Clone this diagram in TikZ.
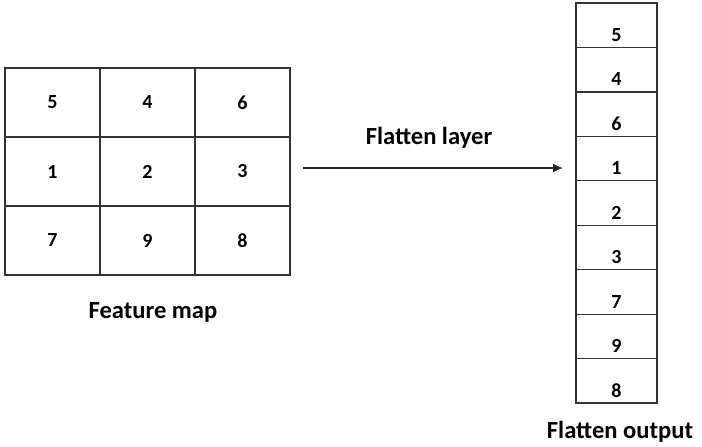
\documentclass[tikz,border=0pt]{standalone}
\usepackage{fontspec}
\setmainfont{Carlito}
\usetikzlibrary{arrows.meta}
\tikzset{
    every node/.style={font=\bfseries},
    cell/.style={rectangle, draw=black!80, line width=0.75pt, minimum width=47.5pt, minimum height=34.5pt, inner sep=0mm, font=\bfseries\fontsize{10}{11}\selectfont},
    flatcell/.style={rectangle, draw=black!80, line width=0.6pt, minimum width=40.5pt, inner sep=0mm, text height=19.2pt, text depth=3pt, font=\bfseries\fontsize{10}{11}\selectfont},
    caption/.style={font=\bfseries\fontsize{12.3}{14}\selectfont}
}

\begin{document}
\begin{tikzpicture}[x=0.5pt, y=-0.5pt]
    \useasboundingbox (0,0) rectangle (702,446);

    % feature map
    \node (f11) [cell] at (52.5, 102.5) {5};
    \node (f12) [cell] at (147.5, 102.5) {4};
    \node (f13) [cell] at (242.5, 102.5) {6};
    \node (f21) [cell] at (52.5, 171.5) {1};
    \node (f22) [cell] at (147.5, 171.5) {2};
    \node (f23) [cell] at (242.5, 171.5) {3};
    \node (f31) [cell] at (52.5, 240.5) {7};
    \node (f32) [cell] at (147.5, 240.5) {9};
    \node (f33) [cell] at (242.5, 240.5) {8};
    \node (fmap) [caption] at (153, 312) {Feature map};

    % flattened column
    \node (o1) [flatcell] at (616.5, 25.2) {5};
    \node (o2) [flatcell] at (616.5, 69.7) {4};
    \node (o3) [flatcell] at (616.5, 114.1) {6};
    \node (o4) [flatcell] at (616.5, 158.6) {1};
    \node (o5) [flatcell] at (616.5, 203.0) {2};
    \node (o6) [flatcell] at (616.5, 247.4) {3};
    \node (o7) [flatcell] at (616.5, 291.9) {7};
    \node (o8) [flatcell] at (616.5, 336.3) {9};
    \node (o9) [flatcell] at (616.5, 380.8) {8};
    \node (fout) [caption] at (620, 432) {Flatten output};

    \node (flab) [caption] at (429, 138) {Flatten layer};
    \coordinate (arrS) at (303, 168);
    \coordinate (arrE) at (563, 168);
    \draw [-{Latex[length=5pt, width=4.5pt]}, line width=0.75pt, black!85] (arrS) -- (arrE);
\end{tikzpicture}
\end{document}
